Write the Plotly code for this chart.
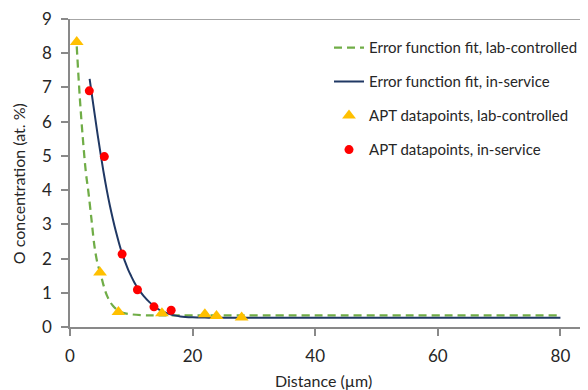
import plotly.graph_objects as go

# APT datapoints
lab_x = [1.1, 4.9, 7.9, 15.0, 22.0, 23.9, 28.0]
lab_y = [8.33, 1.59, 0.44, 0.40, 0.37, 0.32, 0.28]
svc_x = [3.15, 5.6, 8.5, 11.0, 13.7, 16.5]
svc_y = [6.9, 4.98, 2.13, 1.09, 0.59, 0.49]

# Error function fits
lab_fit_x = [1.1, 1.6, 2.1, 2.6, 3.0, 3.5, 4.0, 4.5, 5.0, 5.5, 6.0, 6.5, 7.0,
             7.5, 8.0, 9.0, 10.0, 12.0, 15.0, 80.0]
lab_fit_y = [8.2, 6.7, 5.5, 4.5, 3.95, 3.15, 2.35, 1.85, 1.55, 1.2, 0.93, 0.75,
             0.62, 0.53, 0.46, 0.40, 0.37, 0.345, 0.34, 0.34]
svc_fit_x = [3.2, 3.8, 4.4, 5.0, 5.5, 6.0, 6.5, 7.0, 7.5, 8.0, 8.5, 9.0, 9.5,
             10.0, 10.5, 11.0, 12.0, 13.0, 14.0, 15.0, 16.0, 17.0, 18.0, 20.0,
             22.0, 25.0, 80.0]
svc_fit_y = [7.25, 6.5, 5.75, 5.05, 4.5, 4.0, 3.55, 3.15, 2.78, 2.45, 2.15, 1.9,
             1.67, 1.48, 1.3, 1.15, 0.91, 0.72, 0.57, 0.46, 0.39, 0.34, 0.31,
             0.285, 0.275, 0.27, 0.27]

x_ticks = [0, 20, 40, 60, 80]
y_ticks = [0, 1, 2, 3, 4, 5, 6, 7, 8, 9]

FONT = "Lato, Calibri, Carlito, sans-serif"
AX = "#898989"
TXT = "#262626"

fig = go.Figure()
fig.add_trace(go.Scatter(x=lab_fit_x, y=lab_fit_y, mode="lines", line_shape="spline",
                         name="Error function fit, lab-controlled",
                         line=dict(color="#70AD47", width=2.25, dash="8px,5px"),
                         legendgroup="a"))
fig.add_trace(go.Scatter(x=svc_fit_x, y=svc_fit_y, mode="lines", line_shape="spline",
                         name="Error function fit, in-service",
                         line=dict(color="#203864", width=2),
                         legendgroup="b"))
fig.add_trace(go.Scatter(x=lab_x, y=lab_y, mode="markers",
                         name="APT datapoints, lab-controlled",
                         marker=dict(symbol="triangle-up", size=12, color="#FFC000"),
                         legendgroup="c"))
fig.add_trace(go.Scatter(x=svc_x, y=svc_y, mode="markers",
                         name="APT datapoints, in-service",
                         marker=dict(symbol="circle", size=9, color="#FF0000"),
                         legendgroup="d"))

fig.add_shape(type="line", xref="paper", yref="y", x0=0, x1=1, y0=9, y1=9,
              line=dict(color=AX, width=1.5))

fig.add_annotation(text="Distance (µm)", xref="paper", yref="paper", x=0.49, y=-0.173,
                   xanchor="center", yanchor="middle", showarrow=False,
                   font=dict(size=16, family=FONT, color=TXT))
fig.add_annotation(text="O concentration (at. %)", xref="paper", yref="paper",
                   x=-0.1004, y=0.467, xanchor="center", yanchor="middle", showarrow=False,
                   textangle=-90, font=dict(size=16, family=FONT, color=TXT))

fig.update_layout(
    width=580, height=382,
    margin=dict(l=62, r=0, t=11.3, b=63.3, autoexpand=False),
    paper_bgcolor="white", plot_bgcolor="white",
    font=dict(family=FONT, color=TXT, size=14),
    showlegend=True,
    legend=dict(x=0.50, y=0.96, xanchor="left", yanchor="top",
                font=dict(size=15, family=FONT, color=TXT),
                tracegroupgap=11.5, bgcolor="rgba(0,0,0,0)"),
    xaxis=dict(range=[0, 84.5], tickvals=x_ticks, ticktext=[str(v) for v in x_ticks],
               automargin=False, ticklabeloverflow="allow",
               showgrid=False, zeroline=False, showline=True, linecolor=AX, linewidth=1.5,
               ticks="outside", ticklen=7, tickcolor=AX, tickwidth=1.5, ticklabelstandoff=6,
               tickfont=dict(size=17, family=FONT, color=TXT)),
    yaxis=dict(range=[0, 9], tickvals=y_ticks, ticktext=[str(v) for v in y_ticks],
               automargin=False, ticklabeloverflow="allow",
               showgrid=False, zeroline=False, showline=True, linecolor=AX, linewidth=1.5,
               ticks="outside", ticklen=7, tickcolor=AX, tickwidth=1.5, ticklabelstandoff=6,
               tickfont=dict(size=17, family=FONT, color=TXT)),
)

fig.write_html("out.html")
